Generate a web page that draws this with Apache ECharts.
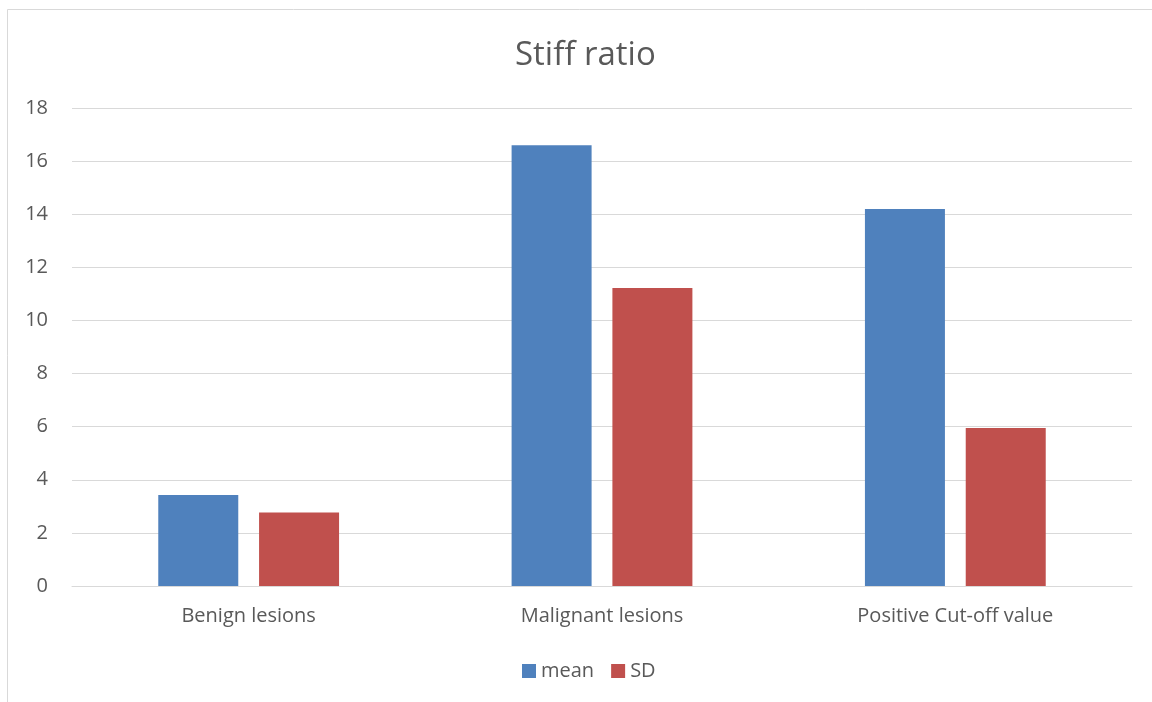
<!DOCTYPE html>
<html>
<head>
<meta charset="utf-8">
<script src="https://cdn.jsdelivr.net/npm/echarts@6/dist/echarts.min.js"></script>
<style>
  html, body { margin: 0; padding: 0; background: #fff; }
  #chart { width: 1152px; height: 702px; }
</style>
</head>
<body>
<div id="chart"></div>
<script>
// Stiff ratio by lesion group
const categories = ['Benign lesions', 'Malignant lesions', 'Positive Cut-off value'];
const meanValues = [3.43, 16.6, 14.2];
const sdValues = [2.77, 11.22, 5.95];
const seriesNames = ['mean', 'SD'];

const FONT = '"Open Sans", "Noto Sans", sans-serif';
const TEXT = '#595959';
const GRID_LINE = '#d9d9d9';

const chart = echarts.init(document.getElementById('chart'), null, { renderer: 'canvas' });
chart.setOption({
  animation: false,
  backgroundColor: '#ffffff',
  title: {
    text: 'Stiff ratio',
    left: 510,
    top: 34,
    textStyle: { fontFamily: FONT, fontSize: 33, fontWeight: 'normal', color: TEXT }
  },
  legend: {
    bottom: 16,
    left: 517,
    itemWidth: 14,
    itemHeight: 14,
    itemGap: 17,
    icon: 'rect',
    textStyle: { fontFamily: FONT, fontSize: 20, color: TEXT },
    data: seriesNames
  },
  graphic: [{
    type: 'polyline',
    shape: { points: [[7.5, 702], [7.5, 9.5], [1152, 9.5]] },
    style: { stroke: GRID_LINE, lineWidth: 1, fill: null }
  }],
  grid: { left: 72, right: 20, top: 108, bottom: 116 },
  xAxis: {
    type: 'category',
    data: categories,
    axisLine: { lineStyle: { color: GRID_LINE, width: 1 } },
    axisTick: { show: false },
    axisLabel: { fontFamily: FONT, fontSize: 20, color: TEXT, margin: 20 }
  },
  yAxis: {
    type: 'value',
    min: 0,
    max: 18,
    interval: 2,
    axisLine: { show: false },
    axisTick: { show: false },
    splitLine: { lineStyle: { color: GRID_LINE, width: 1 } },
    axisLabel: { fontFamily: FONT, fontSize: 20, color: TEXT, margin: 24 }
  },
  series: [
    {
      name: seriesNames[0],
      type: 'bar',
      data: meanValues,
      barWidth: 80,
      barGap: '26%',
      itemStyle: { color: '#4f81bd' }
    },
    {
      name: seriesNames[1],
      type: 'bar',
      data: sdValues,
      barWidth: 80,
      itemStyle: { color: '#c0504d' }
    }
  ]
});
</script>
</body>
</html>
